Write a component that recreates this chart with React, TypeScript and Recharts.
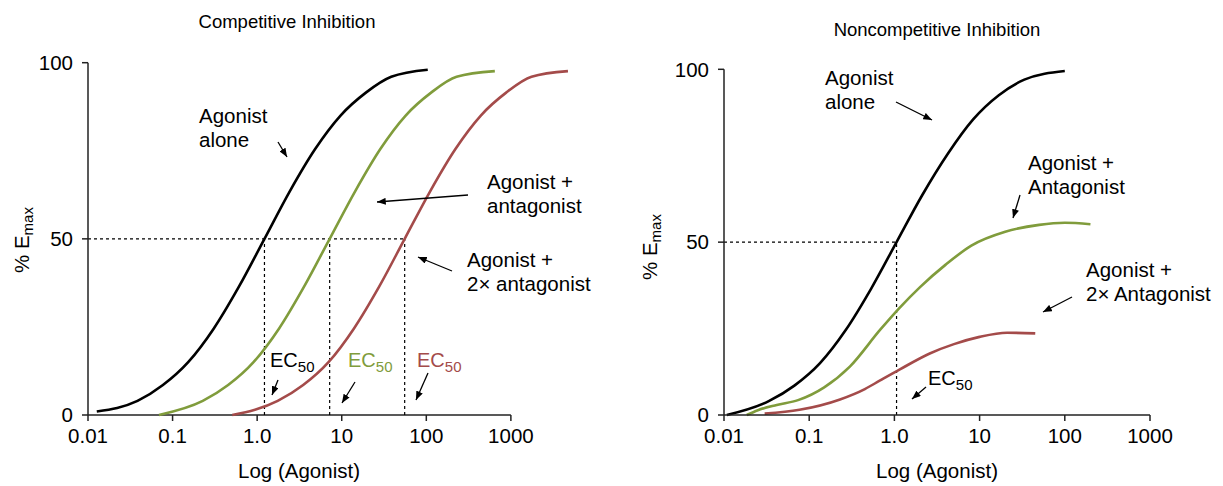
import { Line, LineChart, ReferenceLine, XAxis, YAxis } from 'recharts';

const xTicks = [0.01, 0.1, 1, 10, 100, 1000];
const xTickLabels = ['0.01', '0.1', '1.0', '10', '100', '1000'];
const yTicks = [0, 50, 100];

// competitive inhibition
const compAloneX = [0.0127, 0.0385, 0.0769, 0.153, 0.306, 0.611, 1.22, 2.43, 4.85, 9.68, 19.3, 38.5, 104];
const compAloneY = [1, 4, 8.5, 15, 24.5, 36.5, 50, 63.5, 75.5, 85, 91.5, 96, 98];
const compAntX = [0.069, 0.2275, 0.454, 0.906, 1.81, 3.6, 7.2, 14.4, 28.6, 57, 114, 228, 646];
const compAntY = [0, 4, 8.5, 15, 24.5, 36.5, 50, 63.5, 75.5, 85, 91.5, 96, 97.6];
const comp2xX = [0.508, 1.75, 3.5, 6.98, 13.9, 27.8, 55.5, 111, 221, 441, 879, 1754, 4730];
const comp2xY = [0, 4, 8.5, 15, 24.5, 36.5, 50, 63.5, 75.5, 85, 91.5, 96, 97.6];
const compEC50 = [1.22, 7.2, 55.5];

// noncompetitive inhibition
const nonAloneX = [0.0108, 0.0335, 0.067, 0.134, 0.267, 0.532, 1.06, 2.11, 4.22, 8.4, 16.8, 33.5, 100];
const nonAloneY = [0, 4, 8.5, 15, 24.5, 36.5, 50, 63.5, 75.5, 85.5, 92.5, 97, 99.5];
const nonAntX = [0.0185, 0.025, 0.0416, 0.074, 0.15, 0.3, 0.678, 1.15, 2, 4, 8, 20, 50, 100, 200];
const nonAntY = [0, 1.4, 2.9, 4.3, 8, 14, 24.6, 31, 37, 43.5, 49, 53, 55, 55.6, 55.2];
const non2xX = [0.03, 0.077, 0.23, 0.45, 0.68, 1.16, 2.6, 5, 10, 21, 45];
const non2xY = [0.4, 1.5, 4.5, 7.5, 10, 13.2, 17.8, 20.5, 22.6, 23.8, 23.6];
const nonEC50 = 1.06;

const BLACK = '#000000';
const GREEN = '#809c3c';
const RED = '#a44b4a';
const AXIS = '#222222';
const FONT = '"Liberation Sans", Arial, sans-serif';

const pts = (xs: number[], ys: number[]) => xs.map((x, i) => ({ x, y: ys[i] }));

const tickStyle = { fontSize: 20.5, fill: '#000', fontFamily: FONT };
const fmtX = (v: number) => xTickLabels[xTicks.indexOf(v)] ?? String(v);

function CompetitiveChart() {
  return (
    <LineChart width={612} height={486} margin={{ top: 62.7, right: 42, bottom: 41, left: 28 }}>
      <XAxis
        type="number"
        dataKey="x"
        scale="log"
        domain={[0.01, 5000]}
        allowDataOverflow
        ticks={xTicks}
        interval={0}
        tickFormatter={fmtX}
        axisLine={false}
        tickLine={{ stroke: AXIS, strokeWidth: 1.5 }}
        tickSize={6}
        tickMargin={7}
        height={30}
        tick={tickStyle}
      />
      <YAxis
        type="number"
        domain={[0, 100]}
        ticks={yTicks}
        interval={0}
        width={60}
        axisLine={{ stroke: AXIS, strokeWidth: 1.5 }}
        tickLine={{ stroke: AXIS, strokeWidth: 1.5 }}
        tickSize={6}
        tickMargin={9}
        tick={tickStyle}
      />
      <ReferenceLine segment={[{ x: 0.01, y: 0 }, { x: 1000, y: 0 }]} stroke={AXIS} strokeWidth={1.5} />
      <ReferenceLine
        segment={[{ x: 0.01, y: 50 }, { x: compEC50[2], y: 50 }]}
        stroke="#000"
        strokeWidth={1.2}
        strokeDasharray="3 3"
      />
      {compEC50.map((v) => (
        <ReferenceLine
          key={v}
          segment={[{ x: v, y: 0 }, { x: v, y: 50 }]}
          stroke="#000"
          strokeWidth={1.2}
          strokeDasharray="3 3"
        />
      ))}
      <Line data={pts(compAloneX, compAloneY)} dataKey="y" type="monotone" stroke={BLACK} strokeWidth={2.6} dot={false} isAnimationActive={false} />
      <Line data={pts(compAntX, compAntY)} dataKey="y" type="monotone" stroke={GREEN} strokeWidth={2.6} dot={false} isAnimationActive={false} />
      <Line data={pts(comp2xX, comp2xY)} dataKey="y" type="monotone" stroke={RED} strokeWidth={2.6} dot={false} isAnimationActive={false} />
    </LineChart>
  );
}

function NoncompetitiveChart() {
  return (
    <LineChart width={611} height={486} margin={{ top: 69.3, right: 73, bottom: 41, left: 52 }}>
      <XAxis
        type="number"
        dataKey="x"
        scale="log"
        domain={[0.01, 1000]}
        ticks={xTicks}
        interval={0}
        tickFormatter={fmtX}
        axisLine={{ stroke: AXIS, strokeWidth: 1.5 }}
        tickLine={{ stroke: AXIS, strokeWidth: 1.5 }}
        tickSize={6}
        tickMargin={7}
        height={30}
        tick={tickStyle}
      />
      <YAxis
        type="number"
        domain={[0, 100]}
        ticks={yTicks}
        interval={0}
        width={60}
        axisLine={{ stroke: AXIS, strokeWidth: 1.5 }}
        tickLine={{ stroke: AXIS, strokeWidth: 1.5 }}
        tickSize={6}
        tickMargin={9}
        tick={tickStyle}
      />
      <ReferenceLine
        segment={[{ x: 0.01, y: 50 }, { x: nonEC50, y: 50 }]}
        stroke="#000"
        strokeWidth={1.2}
        strokeDasharray="3 3"
      />
      <ReferenceLine
        segment={[{ x: nonEC50, y: 0 }, { x: nonEC50, y: 50 }]}
        stroke="#000"
        strokeWidth={1.2}
        strokeDasharray="3 3"
      />
      <Line data={pts(nonAloneX, nonAloneY)} dataKey="y" type="monotone" stroke={BLACK} strokeWidth={2.6} dot={false} isAnimationActive={false} />
      <Line data={pts(nonAntX, nonAntY)} dataKey="y" type="monotone" stroke={GREEN} strokeWidth={2.6} dot={false} isAnimationActive={false} />
      <Line data={pts(non2xX, non2xY)} dataKey="y" type="monotone" stroke={RED} strokeWidth={2.6} dot={false} isAnimationActive={false} />
    </LineChart>
  );
}

function Arrow({ x1, y1, x2, y2 }: { x1: number; y1: number; x2: number; y2: number }) {
  return <line x1={x1} y1={y1} x2={x2} y2={y2} stroke="#000" strokeWidth={1.3} markerEnd="url(#ah)" />;
}

function EC({ x, y, color }: { x: number; y: number; color: string }) {
  return (
    <text x={x} y={y} fill={color} fontSize={20}>
      EC
      <tspan dy={5} fontSize={15}>50</tspan>
    </text>
  );
}

function Emax({ x, y }: { x: number; y: number }) {
  return (
    <text x={0} y={0} fontSize={20.5} textAnchor="middle" transform={`translate(${x},${y}) rotate(-90)`}>
      % E<tspan dy={4} fontSize={15}>max</tspan>
    </text>
  );
}

function Annotations() {
  return (
    <svg
      width={1223}
      height={486}
      style={{ position: 'absolute', left: 0, top: 0, pointerEvents: 'none', fontFamily: FONT }}
    >
      <defs>
        <marker id="ah" viewBox="0 0 10 8" refX={10} refY={4} markerWidth={9} markerHeight={7} markerUnits="userSpaceOnUse" orient="auto">
          <path d="M0,0 L10,4 L0,8 z" fill="#000" />
        </marker>
      </defs>
      <g fontSize={20.5} fill="#000">
        <text x={287} y={28} textAnchor="middle" fontSize={18.5}>Competitive Inhibition</text>
        <text x={937} y={36} textAnchor="middle" fontSize={18.5}>Noncompetitive Inhibition</text>
        <text x={299} y={478} textAnchor="middle">Log (Agonist)</text>
        <text x={937} y={478} textAnchor="middle">Log (Agonist)</text>
        <Emax x={29} y={240} />
        <Emax x={657} y={247} />

        <text x={199} y={123}>Agonist</text>
        <text x={199} y={147}>alone</text>
        <Arrow x1={278} y1={142} x2={287} y2={157} />
        <text x={487} y={189}>Agonist +</text>
        <text x={487} y={213}>antagonist</text>
        <Arrow x1={468} y1={195} x2={377} y2={202} />
        <text x={467} y={267}>Agonist +</text>
        <text x={467} y={291}>2× antagonist</text>
        <Arrow x1={452} y1={271} x2={418} y2={257} />
        <EC x={270} y={367} color={BLACK} />
        <Arrow x1={278} y1={380} x2={272} y2={395} />
        <EC x={348} y={367} color={GREEN} />
        <Arrow x1={355} y1={382} x2={342} y2={403} />
        <EC x={417} y={367} color={RED} />
        <Arrow x1={428} y1={373} x2={416} y2={400} />

        <text x={825} y={85}>Agonist</text>
        <text x={825} y={109}>alone</text>
        <Arrow x1={896} y1={102} x2={932} y2={120} />
        <text x={1028} y={170}>Agonist +</text>
        <text x={1028} y={194}>Antagonist</text>
        <Arrow x1={1020} y1={195} x2={1013} y2={218} />
        <text x={1086} y={277}>Agonist +</text>
        <text x={1086} y={301}>2× Antagonist</text>
        <Arrow x1={1072} y1={297} x2={1043} y2={312} />
        <EC x={928} y={385} color={BLACK} />
        <Arrow x1={926} y1={387} x2={912} y2={399} />
      </g>
    </svg>
  );
}

export default function App() {
  return (
    <div style={{ position: 'absolute', left: 0, top: 0, width: 1223, height: 486, background: '#fff', fontFamily: FONT }}>
      <div style={{ position: 'absolute', left: 0, top: 0 }}>
        <CompetitiveChart />
      </div>
      <div style={{ position: 'absolute', left: 612, top: 0 }}>
        <NoncompetitiveChart />
      </div>
      <Annotations />
    </div>
  );
}
